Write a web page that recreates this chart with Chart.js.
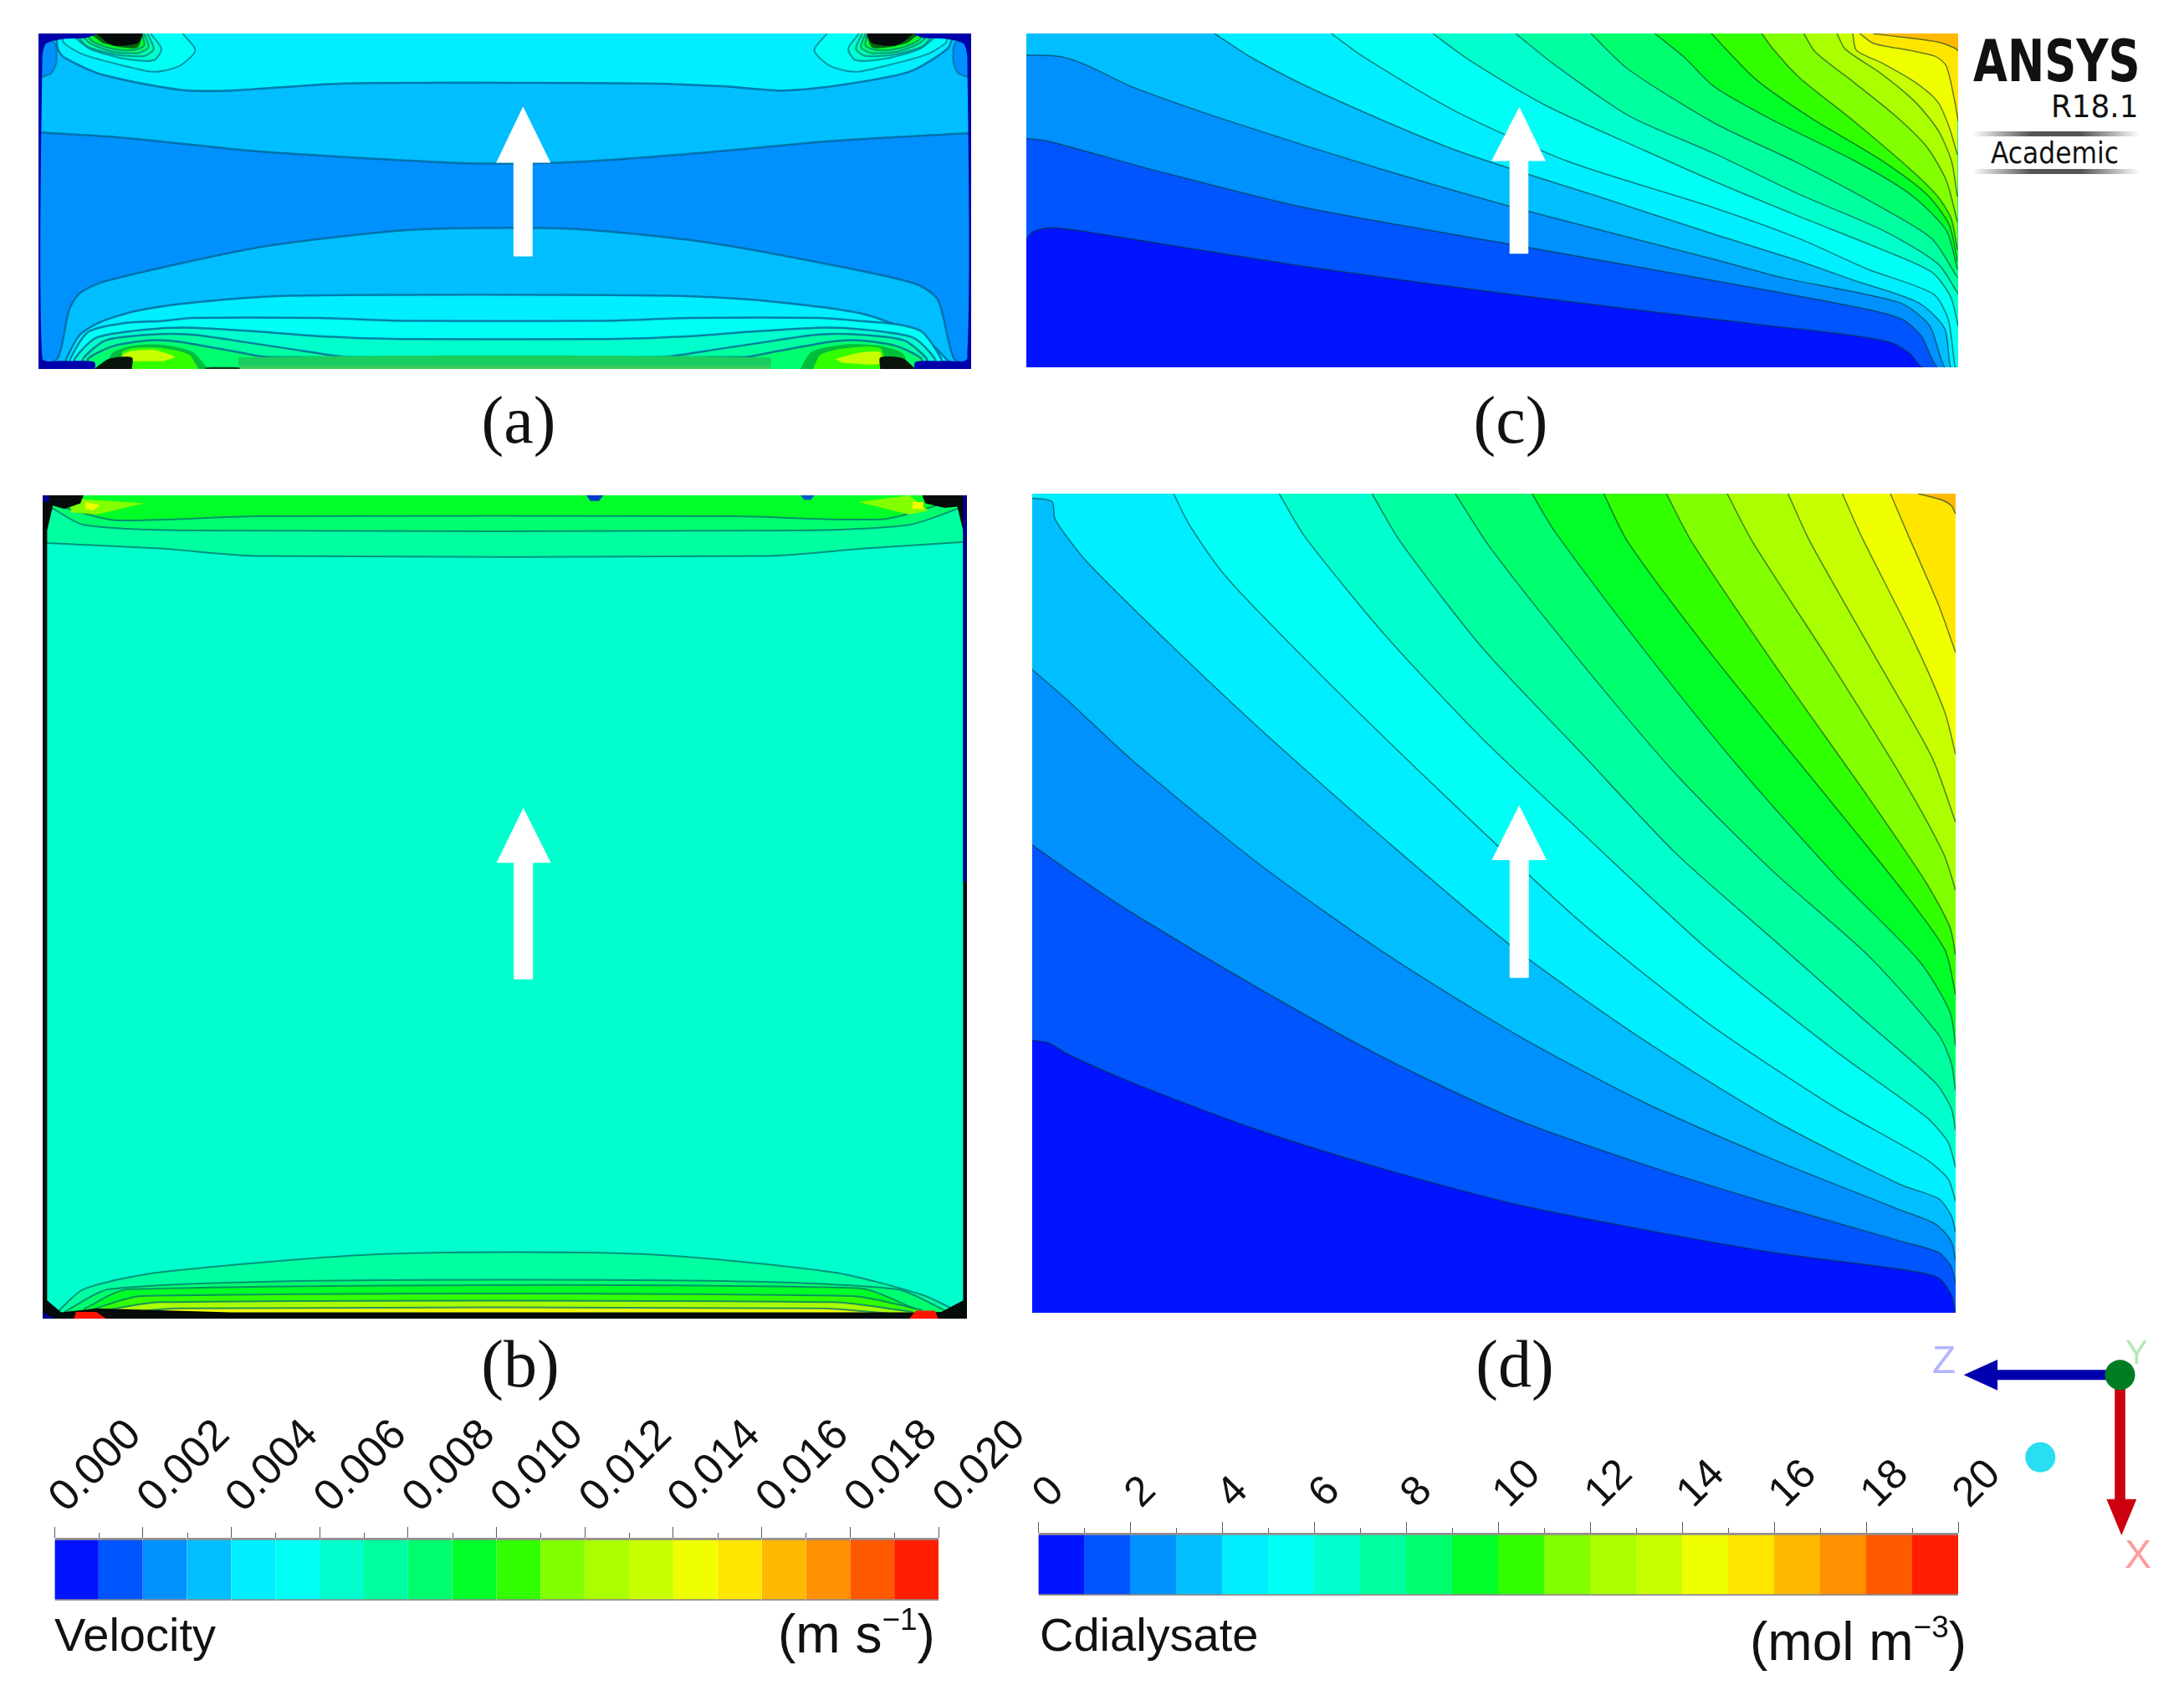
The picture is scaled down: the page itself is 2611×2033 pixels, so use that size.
<!DOCTYPE html>
<html>
<head>
<meta charset="utf-8">
<title>Velocity and Cdialysate contours</title>
<script src="https://cdn.jsdelivr.net/npm/chart.js@4"></script>
<style>
  html, body { margin: 0; background: #fff; }
  body { position: relative; width: 2611px; height: 2033px; overflow: hidden; }
  canvas { position: absolute; filter: blur(.6px); }
  .txt { position: absolute; white-space: nowrap; line-height: 1; color: #111; }
  .cap { font-family: "Liberation Serif", serif; font-size: 80px; width: 200px; text-align: center; }
  .bar { font-family: "Liberation Sans", sans-serif; font-size: 56px; }
  .unit { font-family: "Liberation Sans", sans-serif; font-size: 64px; }
  .unit sup { font-size: 37px; vertical-align: 27px; line-height: 0; }
  .logo { font-family: "DejaVu Sans", sans-serif; transform-origin: 0 0; }
  .rule { position: absolute; height: 6px; background: linear-gradient(90deg, #fff, #555 35%, #555 65%, #fff); }
</style>
</head>
<body>
<canvas id="panelA" width="1115" height="401" style="left:46px;top:40px"></canvas>
<canvas id="panelC" width="1114" height="399" style="left:1227px;top:40px"></canvas>
<canvas id="panelB" width="1105" height="984" style="left:51px;top:592px"></canvas>
<canvas id="panelD" width="1104" height="979" style="left:1234px;top:590px"></canvas>
<canvas id="barVelocity" width="1265" height="240" style="left:0px;top:1690px"></canvas>
<canvas id="barConc" width="1281" height="240" style="left:1170px;top:1690px"></canvas>
<canvas id="triad" width="310" height="290" style="left:2300px;top:1590px"></canvas>

<div class="txt cap" style="left:520px;top:462px">(a)</div>
<div class="txt cap" style="left:522px;top:1590px">(b)</div>
<div class="txt cap" style="left:1706px;top:462px">(c)</div>
<div class="txt cap" style="left:1711px;top:1590px">(d)</div>

<div class="txt bar" style="left:65px;top:1926px">Velocity</div>
<div class="txt unit" style="left:930px;top:1921px">(m s<sup>−1</sup>)</div>
<div class="txt bar" style="left:1243px;top:1926px">Cdialysate</div>
<div class="txt unit" style="left:2092px;top:1930px">(mol m<sup>−3</sup>)</div>

<div class="txt logo" style="left:2359px;top:38px;font-size:70px;font-weight:700;transform:scaleX(.755)">ANSYS</div>
<div class="txt logo" style="left:2452px;top:108px;font-size:38px;transform:scaleX(.94)">R18.1</div>
<div class="rule" style="left:2358px;top:157px;width:200px"></div>
<div class="txt logo" style="left:2380px;top:165px;font-size:36px;transform:scaleX(.87)">Academic</div>
<div class="rule" style="left:2358px;top:202px;width:200px"></div>

<div class="txt" style="left:2310px;top:1598px;font:46px 'Liberation Sans';color:#b4b4ff">Z</div>
<div class="txt" style="left:2541px;top:1594px;font:40px 'Liberation Sans';color:#b4e8b4">Y</div>
<div class="txt" style="left:2540px;top:1830px;font:48px 'Liberation Sans';color:#ff9a9a">X</div>

<script>
// colour levels of both legends, lowest first
const levelColors = [
  'rgb(0,20,255)', 'rgb(0,85,255)', 'rgb(0,145,255)', 'rgb(0,190,255)', 'rgb(0,238,255)',
  'rgb(0,255,245)', 'rgb(0,255,205)', 'rgb(0,255,160)', 'rgb(0,255,110)', 'rgb(0,255,40)',
  'rgb(50,255,0)', 'rgb(130,255,0)', 'rgb(170,255,0)', 'rgb(200,255,0)', 'rgb(240,255,0)',
  'rgb(255,230,0)', 'rgb(255,185,0)', 'rgb(255,145,0)', 'rgb(255,90,0)', 'rgb(255,30,0)'
];

const velocityBands = [.001,.001,.001,.001,.001,.001,.001,.001,.001,.001,.001,.001,.001,.001,.001,.001,.001,.001,.001,.001];
const concBands = [1,1,1,1,1,1,1,1,1,1,1,1,1,1,1,1,1,1,1,1];

// contours, level 1 upward
const linesD = [
  [[44,1010],[70,1015],[100,1035],[200,1085],[400,1170],[600,1240],[800,1300],[1000,1345],[1200,1385],[1400,1415],[1460,1430],[1480,1460],[1487,1492]],
  [[44,665],[100,710],[200,785],[400,920],[600,1045],[800,1150],[1000,1230],[1200,1300],[1400,1365],[1460,1385],[1480,1410],[1487,1440]],
  [[44,355],[100,410],[200,515],[400,700],[600,860],[800,1000],[1000,1120],[1200,1220],[1400,1310],[1455,1335],[1480,1365],[1487,1400]],
  [[44,52],[75,58],[80,90],[130,165],[250,300],[400,460],[600,660],[800,850],[1000,1010],[1200,1150],[1400,1265],[1460,1290],[1480,1320],[1487,1350]],
  [[265,44],[290,100],[350,195],[500,370],[700,590],[900,800],[1100,980],[1300,1130],[1440,1220],[1475,1255],[1487,1295]],
  [[430,44],[470,120],[600,300],[750,480],[900,640],[1100,850],[1300,1030],[1440,1145],[1475,1190],[1487,1235]],
  [[575,44],[620,130],[750,320],[900,500],[1050,680],[1200,830],[1350,980],[1455,1085],[1480,1130],[1487,1170]],
  [[705,44],[760,140],[900,340],[1050,540],[1200,710],[1350,860],[1460,1000],[1480,1050],[1487,1100]],
  [[825,44],[860,110],[1000,320],[1150,530],[1300,720],[1430,870],[1478,960],[1487,1020]],
  [[937,44],[975,130],[1100,320],[1250,530],[1400,740],[1470,850],[1487,930]],
  [[1035,44],[1075,130],[1200,340],[1350,580],[1440,730],[1478,810],[1487,860]],
  [[1130,44],[1170,130],[1290,340],[1400,540],[1468,680],[1487,745]],
  [[1225,44],[1260,130],[1360,330],[1450,510],[1487,625]],
  [[1310,44],[1340,120],[1420,300],[1470,430],[1487,505]],
  [[1385,44],[1410,110],[1460,240],[1487,325]],
  [[1428,44],[1465,55],[1480,65],[1487,80]]
];

// contours, level 1 upward
const linesC = [
  [[30,830],[38,805],[60,790],[100,800],[400,925],[700,1030],[1000,1125],[1130,1165],[1180,1190],[1205,1230],[1220,1275],[1268,1277]],
  [[30,480],[60,490],[200,590],[400,720],[700,860],[1000,1000],[1150,1075],[1195,1110],[1220,1170],[1240,1275],[1268,1277]],
  [[30,190],[75,195],[110,225],[170,300],[300,420],[500,585],[700,735],[944,900],[1037,965],[1190,1050],[1230,1130],[1250,1275],[1268,1277]],
  [[280,115],[330,200],[420,320],[600,520],[800,690],[944,813],[1056,905],[1130,973],[1215,1050],[1250,1140],[1258,1275],[1268,1277]],
  [[435,115],[480,200],[600,385],[750,560],[944,721],[1056,827],[1148,934],[1235,1020],[1255,1110],[1264,1275],[1268,1277]],
  [[570,115],[620,210],[720,365],[850,520],[944,629],[1056,750],[1167,866],[1233,944],[1258,1030],[1268,1130]],
  [[680,115],[730,220],[830,400],[944,532],[1056,673],[1167,798],[1241,915],[1268,1020]],
  [[780,115],[830,240],[944,426],[1056,566],[1167,721],[1233,828],[1267,963]],
  [[865,115],[905,200],[944,300],[1018,411],[1130,557],[1204,673],[1252,798],[1267,934]],
  [[940,115],[1000,276],[1074,411],[1167,557],[1226,673],[1256,779],[1267,905]],
  [[1007,115],[1022,169],[1056,266],[1130,421],[1204,586],[1241,682],[1259,760],[1267,866]],
  [[1063,115],[1078,179],[1130,286],[1185,402],[1226,508],[1252,624],[1267,769]],
  [[1107,115],[1118,169],[1167,257],[1211,353],[1241,450],[1259,557],[1267,682]],
  [[1128,115],[1133,174],[1167,218],[1211,285],[1241,353],[1256,440],[1267,537]],
  [[1137,115],[1156,150],[1204,174],[1237,194],[1252,227],[1263,344],[1268,420]],
  [[1155,116],[1204,131],[1241,145],[1263,165],[1268,175]]
];

// panel (a), upper side: [level, points] drawn in order
const topA = [
  [3, [[60,460],[200,480],[400,525],[640,558],[750,568],[900,562],[1100,530],[1300,490],[1517,462]]],
  [4, [[88,117],[90,170],[100,200],[160,260],[280,312],[360,315],[540,290],[1000,290],[1130,300],[1220,315],[1300,300],[1420,250],[1480,170],[1490,117]]]
];
const loopsA = [
  [2, [[62,140],[85,150],[88,215],[80,255],[62,270]]],
  [2, [[1515,140],[1492,150],[1489,215],[1497,255],[1515,270]]],
  [5, [[285,117],[305,175],[280,230],[240,250],[195,230],[130,190],[100,150],[95,117]]],
  [6, [[235,117],[252,170],[240,210],[195,205],[140,170],[110,117]]],
  [7, [[230,117],[240,170],[225,195],[180,190],[135,160],[118,117]]],
  [8, [[225,117],[232,165],[215,185],[175,180],[140,150],[125,117]]],
  [9, [[222,117],[225,160],[205,175],[175,170],[145,145],[132,117]]],
  [5, [[1292,117],[1272,175],[1297,230],[1337,250],[1382,230],[1447,190],[1477,150],[1482,117]]],
  [6, [[1342,117],[1325,170],[1337,210],[1382,205],[1437,170],[1467,117]]],
  [7, [[1347,117],[1337,170],[1352,195],[1397,190],[1442,160],[1459,117]]],
  [8, [[1352,117],[1345,165],[1362,185],[1402,180],[1437,150],[1452,117]]],
  [9, [[1355,117],[1352,160],[1372,175],[1402,170],[1432,145],[1445,117]]]
];
// panel (a), lower side, filled down to the wall
const bottomA = [
  [3, [[60,1270],[90,1243],[108,1074],[125,1016],[165,975],[400,860],[600,805],[720,792],[900,795],[1100,840],[1300,920],[1430,985],[1465,1040],[1490,1243],[1517,1270]]],
  [4, [[100,1280],[104,1243],[125,1161],[156,1118],[212,1079],[300,1050],[452,1026],[1050,1026],[1200,1045],[1350,1090],[1440,1170],[1480,1250],[1485,1280]]],
  [5, [[108,1280],[110,1243],[138,1151],[191,1122],[256,1113],[300,1103],[496,1103],[635,1113],[940,1113],[1080,1103],[1280,1103],[1340,1113],[1400,1125],[1440,1151],[1470,1243],[1472,1280]]],
  [6, [[115,1280],[117,1243],[151,1171],[234,1142],[300,1137],[408,1151],[496,1166],[626,1176],[950,1176],[1080,1166],[1170,1151],[1277,1137],[1343,1142],[1426,1171],[1460,1243],[1462,1280]]],
  [7, [[128,1280],[130,1243],[165,1181],[234,1161],[300,1161],[365,1181],[452,1210],[548,1239],[1030,1239],[1125,1210],[1212,1181],[1277,1161],[1343,1161],[1412,1181],[1447,1243],[1449,1280]]],
  [8, [[136,1280],[138,1243],[178,1200],[234,1181],[278,1185],[365,1219],[420,1239],[1160,1239],[1212,1219],[1299,1185],[1343,1181],[1399,1200],[1439,1243],[1441,1280]]]
];
const jetsA = [
  ['rgb(0,190,60)', [[165,1280],[175,1225],[205,1200],[250,1195],[300,1220],[325,1280]]],
  [10, [[206,1280],[190,1225],[205,1208],[255,1208],[295,1230],[310,1280]]],
  [13, [[206,1253],[190,1235],[205,1218],[240,1214],[273,1238],[255,1253]]],
  ['rgb(25,205,95)', [[374,1280],[374,1240],[1203,1240],[1203,1280]]],
  ['rgb(60,205,90)', [[374,1280],[374,1270],[1203,1270],[1203,1280]]],
  ['rgb(0,190,60)', [[1250,1280],[1268,1220],[1320,1195],[1375,1200],[1410,1225],[1420,1280]]],
  [10, [[1270,1280],[1282,1230],[1320,1208],[1375,1208],[1385,1280]]],
  [13, [[1305,1245],[1340,1225],[1375,1222],[1375,1262],[1315,1258]]],
  ['rgb(10,20,10)', [[147,1280],[170,1245],[206,1240],[206,1280]]],
  ['rgb(10,20,10)', [[1375,1280],[1375,1240],[1410,1243],[1430,1280]]],
  ['rgb(10,60,20)', [[321,1283],[321,1275],[374,1275],[374,1283]]],
  ['rgb(0,100,20)', [[140,117],[220,117],[215,165],[190,165],[160,150]]],
  ['rgb(5,10,10)', [[150,117],[222,117],[215,150],[180,160],[165,145]]],
  ['rgb(0,100,20)', [[1437,117],[1357,117],[1362,165],[1387,165],[1417,150]]],
  ['rgb(5,10,10)', [[1427,117],[1355,117],[1362,150],[1397,160],[1412,145]]],
  ['rgb(0,0,170)', [[60,117],[150,117],[135,132],[100,136],[72,152],[66,200],[66,1243],[100,1252],[147,1255],[147,1280],[60,1280]]],
  ['rgb(0,0,170)', [[1517,117],[1427,117],[1442,132],[1477,136],[1505,152],[1511,200],[1511,1243],[1477,1252],[1430,1255],[1430,1280],[1517,1280]]]
];

// panel (b)
const topB = [
  [7, [[66,132],[250,142],[400,155],[1200,155],[1350,142],[1510,130]]],
  [8, [[80,70],[130,100],[300,110],[1250,110],[1420,100],[1500,70]]],
  [9, [[100,70],[180,92],[400,85],[1150,85],[1380,90],[1480,60]]]
];
const bottomB = [
  [7, [[85,1495],[130,1450],[250,1420],[600,1388],[1000,1388],[1300,1420],[1440,1460],[1505,1495]]],
  [8, [[100,1490],[170,1450],[500,1435],[1100,1435],[1400,1450],[1480,1490]]],
  [9, [[130,1485],[200,1450],[1340,1448],[1430,1485]]],
  [10, [[140,1487],[220,1462],[1330,1462],[1440,1487]]],
  [12, [[150,1490],[250,1473],[1300,1473],[1425,1490]]],
  [14, [[160,1495],[280,1484],[1280,1484],[1410,1495]]]
];
const marksB = [
  [11, [[110,48],[130,55],[225,62],[150,82],[110,78]]],
  [14, [[133,60],[155,65],[145,75],[133,72]]],
  [11, [[1420,48],[1340,60],[1420,82],[1450,75]]],
  [14, [[1425,60],[1442,60],[1442,72],[1425,72]]],
  ['rgb(5,10,10)', [[66,48],[130,48],[125,62],[100,72],[82,66],[73,110],[73,1470],[95,1491],[150,1484],[360,1491],[1440,1491],[1470,1490],[1504,1470],[1504,110],[1495,68],[1475,70],[1445,62],[1440,48],[1510,48],[1510,1502],[66,1502]]],
  ['rgb(255,20,0)', [[115,1502],[118,1490],[150,1490],[165,1502]]],
  ['rgb(255,20,0)', [[1420,1502],[1430,1488],[1460,1488],[1465,1502]]],
  ['rgb(0,60,200)', [[915,48],[942,48],[935,58],[922,58]]],
  ['rgb(0,90,200)', [[1250,48],[1272,48],[1266,56],[1256,56]]],
  ['rgb(0,0,140)', [[66,48],[76,48],[76,60],[66,60]]],
  ['rgb(0,0,140)', [[66,1490],[85,1502],[66,1502]]],
  ['rgb(0,0,140)', [[1504,48],[1510,48],[1510,730],[1504,730]]]
];

// white flow arrows
const arrowA = [[817,370],[860,565],[832,565],[832,890],[802,890],[802,565],[775,565]];
const arrowB = [[817,600],[860,697],[832,697],[832,903],[802,903],[802,697],[775,697]];
const arrowC = [[685,370],[720,558],[697,558],[697,880],[672,880],[672,558],[648,558]];
const arrowD = [[805,595],[848,692],[820,692],[820,900],[790,900],[790,692],[762,692]];

// coordinate triad
const triadZ = [[1275,190],[1320,135],[1320,172],[1465,172],[1465,208],[1320,208],[1320,245]];
const triadX = [[1476,240],[1490,240],[1490,635],[1505,635],[1485,765],[1465,635],[1476,635]];
const triadOrigin = [[1483,190]];
const triadDot = [[1377,485]];

const pts = list => list.map(p => ({x: p[0], y: p[1]}));
const col = c => typeof c === 'number' ? levelColors[c] : c;

function filled(list, color, fill, line, width, tension = .25) {
  return {
    data: pts(list), showLine: true, pointRadius: 0, fill: fill,
    backgroundColor: col(color), borderColor: line || 'transparent', borderWidth: line ? width : 0,
    tension: tension, clip: 0
  };
}

function panel(id, xr, yr, sets) {
  sets.forEach((s, i) => { s.order = sets.length - i; });
  return new Chart(document.getElementById(id), {
    type: 'scatter',
    data: {datasets: sets},
    options: {
      responsive: false, animation: false,
      layout: {autoPadding: false},
      plugins: {legend: {display: false}, tooltip: {enabled: false}},
      scales: {
        x: {type: 'linear', display: false, min: xr[0], max: xr[1]},
        y: {type: 'linear', display: false, min: yr[0], max: yr[1], reverse: true}
      }
    }
  });
}

// panel a
let lineA = 'rgba(0,100,150,.8)';
panel('panelA', [60,1517], [117,1280], [
  filled([[60,1280],[1517,1280]], 2, 'end'),
  ...topA.map(r => filled(r[1], r[0], 'end', lineA, 2.5)),
  ...loopsA.map(r => filled(r[1], r[0], 'shape', 'rgba(0,110,130,.7)', 2)),
  ...bottomA.map(r => filled(r[1], r[0], 'start', lineA, 2.5)),
  ...jetsA.map(r => filled(r[1], r[0], 'shape')),
  filled(arrowA, '#fff', 'shape', null, 0, 0)
]);

// panel b
let lineB = 'rgba(0,120,110,.8)';
panel('panelB', [66,1510], [48,1502], [
  filled([[66,1502],[1510,1502]], 6, 'end'),
  ...topB.map(r => filled(r[1], r[0], 'end', lineB, 2)),
  ...bottomB.map(r => filled(r[1], r[0], 'start', lineB, 2)),
  ...marksB.map(r => filled(r[1], r[0], 'shape', null, 0, 0)),
  filled(arrowB, '#fff', 'shape', null, 0, 0)
]);

// panels c and d
let lineCD = 'rgba(0,50,50,.6)';
panel('panelC', [30,1268], [115,1275], [
  filled([[30,1275],[1268,1275]], 0, 'end'),
  ...linesC.map((l, i) => filled(l, i + 1, 'end', lineCD, 1.5)),
  filled(arrowC, '#fff', 'shape', null, 0, 0)
]);
panel('panelD', [44,1487], [44,1492], [
  filled([[44,1492],[1487,1492]], 0, 'end'),
  ...linesD.map((l, i) => filled(l, i + 1, 'end', lineCD, 1.5)),
  filled(arrowD, '#fff', 'shape', null, 0, 0)
]);

// short ticks between the labelled ones
const minorTicks = {
  id: 'minorTicks',
  afterDraw(chart, args, opts) {
    const s = chart.scales.x, c = chart.ctx;
    c.save();
    c.strokeStyle = 'rgba(50,50,50,.8)';
    c.lineWidth = 1;
    opts.values.forEach(v => {
      const px = Math.round(s.getPixelForValue(v)) + .5;
      c.beginPath();
      c.moveTo(px, chart.chartArea.top - 6);
      c.lineTo(px, chart.chartArea.top);
      c.stroke();
    });
    c.restore();
  }
};

function colorBar(id, bands, max, step, fmt, fontSize, axisHeight, minor, left, right, offset) {
  return new Chart(document.getElementById(id), {
    type: 'bar',
    data: {
      labels: [''],
      datasets: bands.map((b, i) => ({
        data: [b], backgroundColor: levelColors[i], barPercentage: 1, categoryPercentage: 1,
        borderColor: 'rgba(60,50,50,.55)', borderWidth: {top: 3, bottom: 2, left: 0, right: 0}, borderSkipped: false
      }))
    },
    plugins: [minorTicks],
    options: {
      indexAxis: 'y', responsive: false, animation: false,
      layout: {padding: {left: left, right: right, bottom: 240 - axisHeight - 75}},
      plugins: {legend: {display: false}, tooltip: {enabled: false}, minorTicks: {values: minor}},
      scales: {
        x: {
          position: 'top', stacked: true, min: 0, max: max,
          border: {display: false},
          grid: {drawOnChartArea: false, tickLength: 13, tickColor: 'rgba(50,50,50,.8)', tickWidth: 1},
          ticks: {
            stepSize: step, minRotation: 45, maxRotation: 45, autoSkip: false, padding: 4, color: '#111',
            labelOffset: offset,
            font: {family: 'Liberation Sans', size: fontSize},
            callback: v => fmt(v)
          },
          afterFit: s => { s.height = axisHeight; }
        },
        y: {stacked: true, display: false}
      }
    }
  });
}

colorBar('barVelocity', velocityBands, .02, .002, v => v.toFixed(3), 52, 148,
  [.001,.003,.005,.007,.009,.011,.013,.015,.017,.019], 65, 143, 48);
colorBar('barConc', concBands, 20, 2, v => String(v), 50, 142,
  [1,3,5,7,9,11,13,15,17,19], 71, 110, 46);

// triad
panel('triad', [1222,1567], [30,900], [
  filled(triadX, 'rgb(205,0,15)', 'shape', null, 0, 0),
  filled(triadZ, 'rgb(0,0,175)', 'shape', null, 0, 0),
  {data: pts(triadOrigin), pointRadius: 18, backgroundColor: 'rgb(0,125,35)', borderWidth: 0},
  {data: pts(triadDot), pointRadius: 18, backgroundColor: 'rgb(40,222,240)', borderWidth: 0}
]);
</script>
</body>
</html>
